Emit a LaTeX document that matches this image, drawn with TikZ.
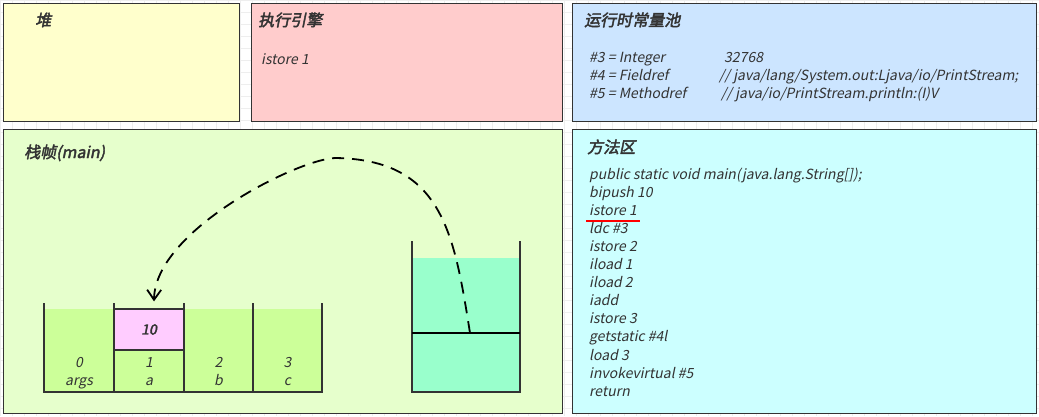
\documentclass[tikz,border=0pt]{standalone}
\usepackage{fontspec}
\setmainfont{Noto Sans CJK SC}[AutoFakeSlant=0.2, AutoFakeBold=2.5]
\usetikzlibrary{arrows.meta,calc}
\definecolor{frame}{HTML}{333333}
\definecolor{txt}{HTML}{333333}
\definecolor{gridc}{HTML}{EEEEEE}
\definecolor{heapc}{HTML}{FFFFCC}
\definecolor{enginec}{HTML}{FFCCCC}
\definecolor{poolc}{HTML}{CCE5FF}
\definecolor{framec}{HTML}{E6FFCC}
\definecolor{methodc}{HTML}{CCFFFF}
\definecolor{cellc}{HTML}{CCFF99}
\definecolor{pinkc}{HTML}{FFCCFF}
\definecolor{opc}{HTML}{99FFCC}
\begin{document}
\begin{tikzpicture}[x=1pt,y=-1pt,
  box/.style={draw=frame, line width=1.3pt, anchor=north west, inner sep=0pt},
  title/.style={anchor=west, inner sep=0pt, text=txt, text height=11pt, text depth=3pt, font=\fontsize{16}{18}\selectfont\bfseries\itshape},
  body/.style={anchor=west, inner sep=0pt, text=txt, text height=10pt, text depth=3pt, yshift=-1.5pt, font=\fontsize{14}{16}\selectfont\itshape},
  lbl/.style={anchor=center, inner sep=0pt, text=txt, text height=10pt, text depth=3pt, yshift=-1pt, font=\fontsize{14}{16}\selectfont\itshape},
  wall/.style={draw=frame, line width=1.8pt}]
\useasboundingbox (0,0) rectangle (1039,416);
\fill[white] (0,0) rectangle (1039,416);
\foreach \i in {0,...,87} \draw[gridc, line width=0.5pt] (\i*12,0) -- (\i*12,416);
\foreach \j in {0,...,35} \draw[gridc, line width=0.5pt] (0,\j*12) -- (1039,\j*12);

% panels
\node[box, fill=heapc, minimum width=236pt, minimum height=118pt] (heap) at (3,3) {};
\node[box, fill=enginec, minimum width=311pt, minimum height=118pt] (engine) at (251,3) {};
\node[box, fill=poolc, minimum width=464pt, minimum height=118pt] (pool) at (572,3) {};
\node[box, fill=framec, minimum width=559pt, minimum height=284pt] (frame) at (3,129) {};
\node[box, fill=methodc, minimum width=464pt, minimum height=284pt] (method) at (572,129) {};

% titles
\node[title] (heapT) at (35,22) {堆};
\node[title] (engT) at (258,22) {执行引擎};
\node[body] (engB) at (261,59) {istore 1};
\node[title] (poolT) at (584,22) {运行时常量池};
\node[body] (p3) at (589,57) {\#3 = Integer};
\node[body] (p3v) at (724,57) {32768};
\node[body] (p4) at (589,75) {\#4 = Fieldref};
\node[body] (p4v) at (719,75) {// java/lang/System.out:Ljava/io/PrintStream;};
\node[body] (p5) at (589,93) {\#5 = Methodref};
\node[body] (p5v) at (721,93) {// java/io/PrintStream.println:(I)V};
\node[title] (frameT) at (24,154) {栈帧(main)};
\node[title] (methT) at (587,149) {方法区};

% method area code
\foreach \t [count=\k from 0] in {public static void main(java.lang.String[]);, bipush 10, istore 1, ldc \#3, istore 2, iload 1, iload 2, iadd, istore 3, getstatic \#4l, load 3, invokevirtual \#5, return}
  \node[body] (m\k) at (589,174+\k*18.1) {\t};
\draw[red, line width=1.4pt] (m2.south west) ++(-3,2.5) coordinate (ulA) -- ++(54,0) coordinate (ulB);

% local variable table
\fill[cellc] (44,309) rectangle (322,392);
\node[draw=frame, line width=1.3pt, fill=pinkc, minimum width=70pt, minimum height=41pt, inner sep=0pt, text=txt, font=\fontsize{14}{16}\selectfont\bfseries\itshape] (v10) at (149,329.5) {10};
\draw[wall] (44,303) -- (44,392) -- (322,392) -- (322,303);
\draw[wall] (114,303) -- (114,392);
\draw[wall] (184,303) -- (184,392);
\draw[wall] (253,303) -- (253,392);
\node[lbl] (i0) at (79,363) {0};
\node[lbl] (n0) at (79,381) {args};
\node[lbl] (i1) at (149,363) {1};
\node[lbl] (n1) at (149,381) {a};
\node[lbl] (i2) at (218.5,363) {2};
\node[lbl] (n2) at (218.5,381) {b};
\node[lbl] (i3) at (287.5,363) {3};
\node[lbl] (n3) at (287.5,381) {c};

% operand stack
\fill[opc] (412,258) rectangle (520,392);
\draw[wall] (412,241) -- (412,392) -- (520,392) -- (520,241);
\draw[black, line width=1.8pt] (412,333) coordinate (divL) -- (520,333) coordinate (divR);

% dashed arrow
\coordinate (src) at (470,333);
\coordinate (peak) at (336,158);
\coordinate (dst) at ($(v10.north)+(5,-7)$);
\draw[black, line width=1.8pt, dash pattern=on 12pt off 8pt, -{Straight Barb[length=10pt,width=14pt,line width=1.8pt]}]
  (src) .. controls (454,232) and (442,160) .. (peak) .. controls (300,158) and (155,230) .. (dst);
\end{tikzpicture}
\end{document}
